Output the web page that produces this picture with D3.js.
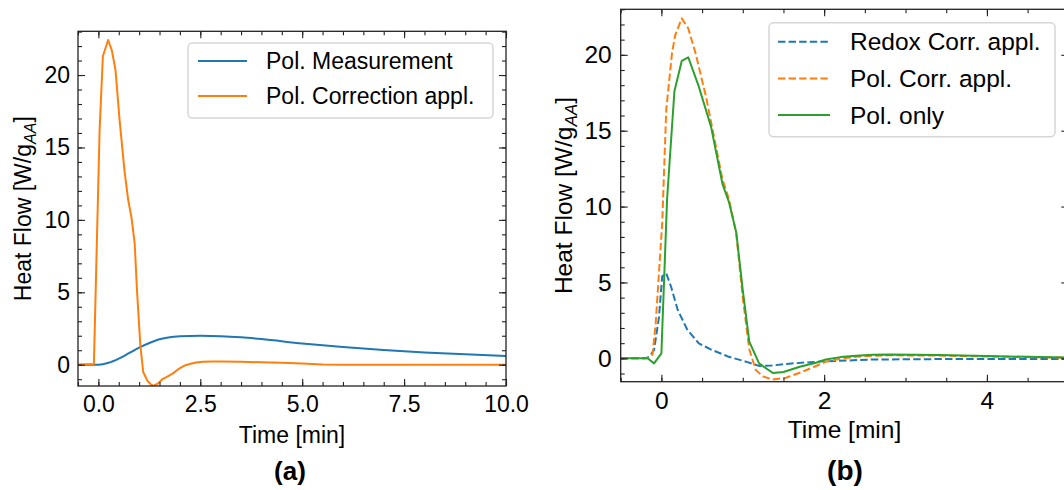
<!DOCTYPE html>
<html>
<head>
<meta charset="utf-8">
<script src="https://cdn.jsdelivr.net/npm/d3@7"></script>
<style>
  body { margin: 0; background: #fff; }
  svg { display: block; font-family: Arial, 'Liberation Sans', sans-serif; }
</style>
</head>
<body>
<div id="chart"></div>
<script>
// ---- panel (a) data ----
const measTime = [-0.5, 0, 0.25, 0.5, 0.75, 1.0, 1.25, 1.5, 1.75, 2.0, 2.5, 3.0, 3.5, 4.0, 5.0, 6.0, 7.0, 8.0, 9.0, 10.0];
const measFlow = [0, 0, 0.13, 0.42, 0.8, 1.18, 1.5, 1.76, 1.9, 1.96, 2.0, 1.97, 1.89, 1.77, 1.47, 1.22, 1.01, 0.85, 0.72, 0.6];

const corrTime = [-0.5, -0.11, 0.03, 0.11, 0.24, 0.33, 0.42, 0.52, 0.64, 0.73, 0.81, 0.89, 0.95, 1.03, 1.1, 1.2, 1.3, 1.36, 1.46, 1.57, 1.67, 1.83, 1.99, 2.12, 2.24, 2.4, 2.56, 2.8, 3.0, 3.5, 4.0, 4.5, 5.0, 5.5, 6.0, 7.0, 8.0, 9.0, 10.0];
const corrFlow = [0, 0.05, 16.2, 21.3, 22.42, 21.7, 20.35, 16.9, 13.4, 11.4, 10.2, 8.4, 5.0, 1.3, -0.5, -1.1, -1.4, -1.45, -1.3, -1.0, -0.85, -0.6, -0.25, -0.05, 0.05, 0.15, 0.21, 0.23, 0.23, 0.2, 0.17, 0.13, 0.08, 0.02, 0.0, 0.0, 0.0, 0.0, 0.0];

// ---- panel (b) data ----
const redoxTime = [-0.5, -0.2, -0.15, -0.09, -0.03, 0.01, 0.06, 0.12, 0.2, 0.32, 0.46, 0.6, 0.83, 1.04, 1.2, 1.35, 1.57, 1.98, 2.6, 3.4, 4.0, 5.0];
const redoxFlow = [0, 0, 0.1, 0.55, 2.7, 5.4, 5.6, 4.7, 3.2, 1.87, 0.99, 0.6, 0.1, -0.22, -0.5, -0.48, -0.35, -0.2, -0.08, -0.05, -0.05, -0.05];

const polCorrTime = [-0.5, -0.17, -0.11, -0.07, -0.03, 0.01, 0.06, 0.13, 0.17, 0.25, 0.33, 0.42, 0.55, 0.65, 0.75, 0.83, 0.92, 1.0, 1.08, 1.16, 1.25, 1.37, 1.53, 1.7, 1.86, 2.02, 2.2, 2.39, 2.6, 2.8, 3.4, 4.0, 4.5, 5.0];
const polCorrFlow = [0, 0, 0.22, 2.3, 5.6, 8.9, 16.4, 20.1, 21.3, 22.4, 21.75, 20.1, 17.2, 14.5, 11.8, 10.5, 8.2, 4.0, 0.6, -0.77, -1.2, -1.4, -1.28, -0.95, -0.6, -0.22, -0.02, 0.1, 0.17, 0.2, 0.18, 0.12, 0.08, 0.05];

const polOnlyTime = [-0.5, -0.17, -0.09, 0.0, 0.07, 0.16, 0.25, 0.33, 0.46, 0.61, 0.75, 0.83, 0.92, 1.0, 1.08, 1.2, 1.37, 1.5, 1.7, 1.9, 2.02, 2.2, 2.39, 2.6, 2.8, 3.4, 4.0, 4.5, 5.0];
const polOnlyFlow = [0, 0, -0.33, 0.33, 10.5, 17.6, 19.6, 19.84, 17.9, 15.27, 11.5, 10.3, 8.3, 4.5, 1.1, -0.33, -0.97, -0.9, -0.55, -0.29, -0.07, 0.08, 0.17, 0.24, 0.26, 0.22, 0.15, 0.1, 0.05];

const xTicksA = [0, 2.5, 5, 7.5, 10];
const xTicksB = [0, 2, 4];
const yTicks = [0, 5, 10, 15, 20];

const C = { blue: '#1f77b4', orange: '#ff7f0e', green: '#2ca02c' };

const W = 1064, H = 490;
const svg = d3.select('#chart').append('svg')
    .attr('width', W)
    .attr('height', H)
    .attr('viewBox', `0 0 ${W} ${H}`);

function zip(xs, ys) {
    return xs.map((x, i) => [x, ys[i]]);
}

function drawPanel(cfg) {
    const { left, top, right, bottom, fs } = cfg;
    const x = d3.scaleLinear().domain(cfg.xDomain).range([left, right]);
    const y = d3.scaleLinear().domain(cfg.yDomain).range([bottom, top]);
    const g = svg.append('g');

    const clipId = 'clip-' + cfg.id;
    svg.append('defs').append('clipPath').attr('id', clipId)
        .append('rect')
        .attr('x', left).attr('y', top)
        .attr('width', right - left).attr('height', bottom - top);

    // series
    const plot = g.append('g').attr('clip-path', `url(#${clipId})`);
    cfg.series.forEach(s => {
        const line = d3.line()
            .x(d => x(d[0]))
            .y(d => y(d[1]))
            .curve(s.smooth ? d3.curveMonotoneX : d3.curveLinear);
        plot.append('path')
            .datum(zip(s.t, s.v))
            .attr('fill', 'none')
            .attr('stroke', s.color)
            .attr('stroke-width', 2)
            .attr('stroke-dasharray', s.dash ? '7.4,3.2' : null)
            .attr('stroke-linejoin', 'round')
            .attr('d', line);
    });

    // minor ticks
    const xMinor = d3.range(Math.ceil(cfg.xDomain[0] / cfg.xMinor) * cfg.xMinor, cfg.xDomain[1] + 1e-9, cfg.xMinor);
    const yMinor = d3.range(Math.ceil(cfg.yDomain[0]), cfg.yDomain[1] + 1e-9, 1);

    const axisStyle = sel => {
        sel.select('.domain').remove();
        sel.selectAll('.tick line').attr('stroke', '#222').attr('stroke-width', 1.1);
        sel.selectAll('.tick text')
            .attr('fill', '#000')
            .style('font-size', fs + 'px')
            .style('font-family', 'Arial, "Liberation Sans", sans-serif');
    };

    g.append('g').attr('transform', `translate(0,${bottom})`)
        .call(d3.axisBottom(x).tickValues(xMinor).tickSize(-4).tickFormat('')).call(axisStyle);
    g.append('g').attr('transform', `translate(0,${top})`)
        .call(d3.axisTop(x).tickValues(xMinor).tickSize(-4).tickFormat('')).call(axisStyle);
    g.append('g').attr('transform', `translate(${left},0)`)
        .call(d3.axisLeft(y).tickValues(yMinor).tickSize(-4).tickFormat('')).call(axisStyle);
    g.append('g').attr('transform', `translate(${right},0)`)
        .call(d3.axisRight(y).tickValues(yMinor).tickSize(-4).tickFormat('')).call(axisStyle);

    // major ticks
    g.append('g').attr('transform', `translate(0,${bottom})`)
        .call(d3.axisBottom(x).tickValues(cfg.xTicks).tickSize(-7).tickPadding(10).tickFormat(cfg.xFormat))
        .call(axisStyle)
        .selectAll('.tick text').attr('dy', '0.71em');
    g.append('g').attr('transform', `translate(0,${top})`)
        .call(d3.axisTop(x).tickValues(cfg.xTicks).tickSize(-7).tickFormat('')).call(axisStyle);
    g.append('g').attr('transform', `translate(${left},0)`)
        .call(d3.axisLeft(y).tickValues(yTicks).tickSize(-7).tickPadding(cfg.yPad).tickFormat(d3.format('d')))
        .call(axisStyle);
    g.append('g').attr('transform', `translate(${right},0)`)
        .call(d3.axisRight(y).tickValues(yTicks).tickSize(-7).tickFormat('')).call(axisStyle);

    // frame
    g.append('rect')
        .attr('x', left).attr('y', top)
        .attr('width', right - left).attr('height', bottom - top)
        .attr('fill', 'none').attr('stroke', '#222').attr('stroke-width', 1.3);

    // axis labels
    g.append('text')
        .attr('x', (left + right0(cfg)) / 2)
        .attr('y', cfg.xLabelY)
        .attr('text-anchor', 'middle')
        .style('font-size', fs + 'px')
        .text('Time [min]');

    const yl = g.append('text')
        .attr('transform', `translate(${cfg.yLabelX},${(top + bottom) / 2}) rotate(-90)`)
        .attr('text-anchor', 'middle')
        .style('font-size', fs + 'px');
    yl.append('tspan').text('Heat Flow [W/g');
    yl.append('tspan').attr('dy', fs * 0.22).style('font-style', 'italic')
        .style('font-size', (fs * 0.7) + 'px').text('AA');
    yl.append('tspan').attr('dy', -fs * 0.22).text(']');

    // panel tag
    g.append('text')
        .attr('x', cfg.tagX).attr('y', 480)
        .attr('text-anchor', 'middle')
        .style('font-size', cfg.tagSize + 'px')
        .style('font-weight', 'bold')
        .text(cfg.tag);

    // legend
    const L = cfg.legend;
    g.append('rect')
        .attr('x', L.x).attr('y', L.y)
        .attr('width', L.w).attr('height', L.h)
        .attr('rx', 4.5)
        .attr('fill', '#fff').attr('fill-opacity', 0.8)
        .attr('stroke', '#d6d6d6').attr('stroke-width', 1.5);
    cfg.series.forEach((s, i) => {
        const cy = L.y + L.first + i * L.step;
        g.append('line')
            .attr('x1', L.x + L.lineX0).attr('x2', L.x + L.lineX1)
            .attr('y1', cy).attr('y2', cy)
            .attr('stroke', s.color).attr('stroke-width', 2)
            .attr('stroke-dasharray', s.dash ? '7.4,3.2' : null);
        g.append('text')
            .attr('x', L.x + L.textX).attr('y', cy)
            .attr('dy', '0.35em')
            .style('font-size', fs + 'px')
            .text(s.name);
    });
}

function right0(cfg) {
    return cfg.labelRight !== undefined ? cfg.labelRight : cfg.right;
}

drawPanel({
    id: 'a',
    left: 78, right: 506, top: 31.3, bottom: 386,
    xDomain: [-0.5, 10], yDomain: [-1.47, 23.02],
    xTicks: xTicksA, xMinor: 0.5, xFormat: d3.format('.1f'),
    fs: 23, yPad: 8,
    xLabelY: 443, yLabelX: 31,
    tag: '(a)', tagX: 290, tagSize: 26,
    series: [
        { name: 'Pol. Measurement', t: measTime, v: measFlow, color: C.blue, smooth: true },
        { name: 'Pol. Correction appl.', t: corrTime, v: corrFlow, color: C.orange }
    ],
    legend: { x: 188, y: 43, w: 305, h: 75, first: 18, step: 35, lineX0: 10, lineX1: 59, textX: 78 }
});

drawPanel({
    id: 'b',
    left: 620.7, right: 1068.3, top: 9.3, bottom: 381.7,
    xDomain: [-0.5, 5], yDomain: [-1.54, 23.0],
    xTicks: xTicksB, xMinor: 0.5, xFormat: d3.format('d'),
    fs: 24.5, yPad: 9,
    labelRight: 1068.3,
    xLabelY: 438, yLabelX: 572,
    tag: '(b)', tagX: 845, tagSize: 28,
    series: [
        { name: 'Redox Corr. appl.', t: redoxTime, v: redoxFlow, color: C.blue, dash: true },
        { name: 'Pol. Corr. appl.', t: polCorrTime, v: polCorrFlow, color: C.orange, dash: true },
        { name: 'Pol. only', t: polOnlyTime, v: polOnlyFlow, color: C.green }
    ],
    legend: { x: 769, y: 22.7, w: 286, h: 114, first: 19, step: 36.7, lineX0: 9, lineX1: 61, textX: 81 }
});
</script>
</body>
</html>
